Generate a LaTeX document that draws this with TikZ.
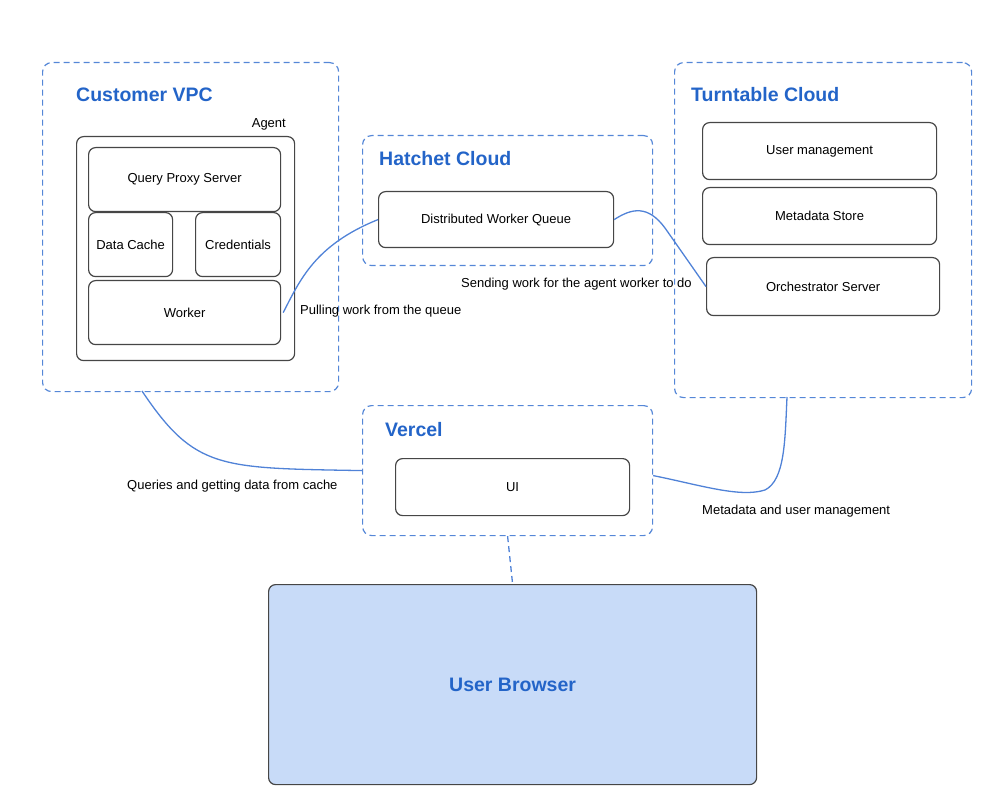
\documentclass[tikz,border=0pt]{standalone}
\usepackage{fontspec}
\setmainfont{Liberation Sans}
\begin{document}
\begin{tikzpicture}[x=1pt,y=-1pt,
  zone/.style={draw=dashblue,dashed,dash pattern=on 6pt off 4pt,line width=1.2pt,rounded corners=9pt},
  comp/.style={draw=boxgray,line width=1.2pt,rounded corners=7pt,fill=white},
  ztitle/.style={anchor=west,font=\fontsize{19.5}{22}\selectfont\bfseries,text=titleblue,inner sep=0pt},
  ctext/.style={font=\fontsize{13}{15}\selectfont,inner sep=0pt},
  lbl/.style={anchor=west,font=\fontsize{13}{15}\selectfont,inner sep=0pt},
  link/.style={draw=linkblue,line width=1.3pt}]
\definecolor{dashblue}{RGB}{85,135,215}
\definecolor{titleblue}{RGB}{35,100,200}
\definecolor{linkblue}{RGB}{80,130,215}
\definecolor{boxgray}{RGB}{70,70,70}
\definecolor{browserfill}{RGB}{200,219,248}
\useasboundingbox (0,0) rectangle (1007,802);
% zones
\node[zone,minimum width=296pt,minimum height=329pt,anchor=north west] (vpc) at (42,62) {};
\node[zone,minimum width=290pt,minimum height=130pt,anchor=north west] (hatchet) at (362,135) {};
\node[zone,minimum width=297pt,minimum height=335pt,anchor=north west] (turn) at (674,62) {};
\node[zone,minimum width=290pt,minimum height=130pt,anchor=north west] (vercel) at (362,405) {};
\node[ztitle] (vpct) at (76,95) {Customer VPC};
\node[ztitle] (hatt) at (379,159) {Hatchet Cloud};
\node[ztitle] (turnt) at (691,95) {Turntable Cloud};
\node[ztitle] (vert) at (385,430) {Vercel};
% agent
\node[comp,minimum width=218pt,minimum height=224pt,anchor=north west] (agent) at (76,136) {};
\node[ctext,anchor=east] (agentl) at (286,124) {Agent};
\node[comp,minimum width=192pt,minimum height=64pt,anchor=north west] (qps) at (88,147) {};
\node[ctext] at (qps.center) {Query Proxy Server};
\node[comp,minimum width=84pt,minimum height=64pt,anchor=north west] (cache) at (88,212) {};
\node[ctext] at (cache.center) {Data Cache};
\node[comp,minimum width=85pt,minimum height=64pt,anchor=north west] (cred) at (195,212) {};
\node[ctext] at (cred.center) {Credentials};
\node[comp,minimum width=192pt,minimum height=64pt,anchor=north west] (worker) at (88,280) {};
\node[ctext] at (worker.center) {Worker};
% hatchet
\node[comp,minimum width=235pt,minimum height=56pt,anchor=north west] (dwq) at (378,191) {};
\node[ctext] at (dwq.center) {Distributed Worker Queue};
% turntable
\node[comp,minimum width=234pt,minimum height=57pt,anchor=north west] (um) at (702,122) {};
\node[ctext] at (um.center) {User management};
\node[comp,minimum width=234pt,minimum height=57pt,anchor=north west] (ms) at (702,187) {};
\node[ctext] at (ms.center) {Metadata Store};
\node[comp,minimum width=233pt,minimum height=58pt,anchor=north west] (orch) at (706,257) {};
\node[ctext] at (orch.center) {Orchestrator Server};
% vercel
\node[comp,minimum width=234pt,minimum height=57pt,anchor=north west] (ui) at (395,458) {};
\node[ctext] at (ui.center) {UI};
% browser
\node[comp,fill=browserfill,minimum width=488pt,minimum height=200pt,anchor=north west] (browser) at (268,584) {};
\node[font=\fontsize{19.5}{22}\selectfont\bfseries,text=titleblue,inner sep=0pt] at (browser.center) {User Browser};
% connectors
\coordinate (w1) at ([xshift=2pt,yshift=0pt]worker.east);
\draw[link] (w1) .. controls (300,280) and (315,245) .. (dwq.west);
\draw[link] (dwq.east) .. controls (632,208) and (648,205) .. (665,228) -- (orch.west);
\coordinate (v1) at (142,391);
\draw[link] (v1) .. controls (195,470) and (220,468) .. (vercel.west);
\coordinate (t1) at (787,397);
\draw[link] ([yshift=-5pt]vercel.east) .. controls (700,485) and (740,498) .. (765,490) .. controls (785,480) and (785,440) .. (t1);
\draw[link,dashed,dash pattern=on 6pt off 4pt] (vercel.south) -- (browser.north);
% labels
\node[lbl] (l1) at (300,311) {Pulling work from the queue};
\node[lbl] (l2) at (461,284) {Sending work for the agent worker to do};
\node[lbl] (l3) at (127,486) {Queries and getting data from cache};
\node[lbl] (l4) at (702,511) {Metadata and user management};
\end{tikzpicture}
\end{document}
